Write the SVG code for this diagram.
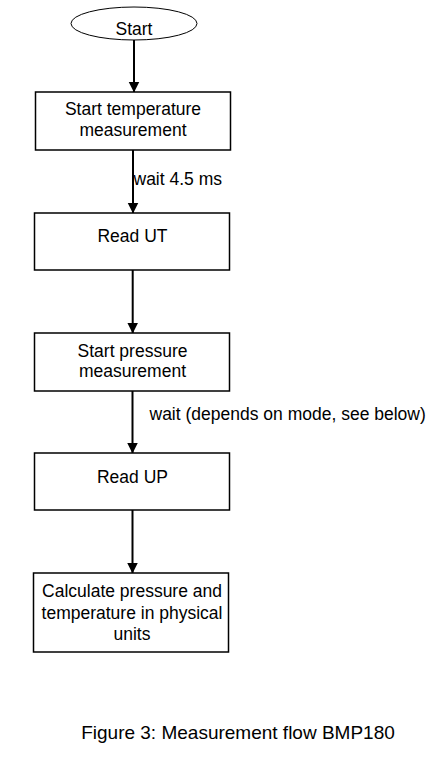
<svg xmlns="http://www.w3.org/2000/svg" width="447" height="761" viewBox="0 0 447 761">
<style>
  .box { fill: #ffffff; stroke: #000000; stroke-width: 1.5; }
  .term { fill: #ffffff; stroke: #000000; stroke-width: 1; }
  .t { font-family: "Liberation Sans", Arial, sans-serif; font-size: 17.5px; fill: #000000; text-anchor: middle; }
  .lbl { font-family: "Liberation Sans", Arial, sans-serif; font-size: 17.5px; fill: #000000; }
  .cap { font-family: "Liberation Sans", Arial, sans-serif; font-size: 19px; fill: #000000; text-anchor: middle; }
  .edge { stroke: #000000; stroke-width: 2; fill: none; marker-end: url(#arr); }
</style>
<defs>
  <marker id="arr" markerUnits="userSpaceOnUse" markerWidth="11" markerHeight="12" refX="10.5" refY="5.5" orient="auto">
    <path d="M0,0 L11,5.5 L0,11 Z" fill="#000000"/>
  </marker>
</defs>
<rect width="447" height="761" fill="#ffffff"/>
<g id="connectors">
  <line class="edge" x1="134" y1="40" x2="134" y2="92"/>
  <line class="edge" x1="133" y1="150" x2="133" y2="213"/>
  <line class="edge" x1="132.7" y1="270" x2="132.7" y2="333"/>
  <line class="edge" x1="132.5" y1="391" x2="132.5" y2="453"/>
  <line class="edge" x1="132.5" y1="510" x2="132.5" y2="573"/>
  <text class="lbl" x="133.5" y="185">wait 4.5 ms</text>
  <text class="lbl" x="149.5" y="420">wait (depends on mode, see below)</text>
</g>
<g id="start">
  <ellipse class="term" cx="134" cy="23.5" rx="63" ry="16.5"/>
  <text class="t" x="134" y="35">Start</text>
</g>
<g id="start-temp">
  <rect class="box" x="35.5" y="92" width="195" height="58"/>
  <text class="t" x="133" y="115">Start temperature</text>
  <text class="t" x="133" y="136">measurement</text>
</g>
<g id="read-ut">
  <rect class="box" x="34.5" y="213" width="195" height="57"/>
  <text class="t" x="132.5" y="242">Read UT</text>
</g>
<g id="start-pressure">
  <rect class="box" x="34.5" y="333" width="195" height="58"/>
  <text class="t" x="132.5" y="356.5">Start pressure</text>
  <text class="t" x="132.5" y="377">measurement</text>
</g>
<g id="read-up">
  <rect class="box" x="34.5" y="453" width="195" height="57"/>
  <text class="t" x="132.5" y="483">Read UP</text>
</g>
<g id="calculate">
  <rect class="box" x="33.5" y="573" width="195" height="79"/>
  <text class="t" x="132" y="597">Calculate pressure and</text>
  <text class="t" x="132" y="619">temperature in physical</text>
  <text class="t" x="132" y="640">units</text>
</g>
<text class="cap" x="238" y="739">Figure 3: Measurement flow BMP180</text>
</svg>
